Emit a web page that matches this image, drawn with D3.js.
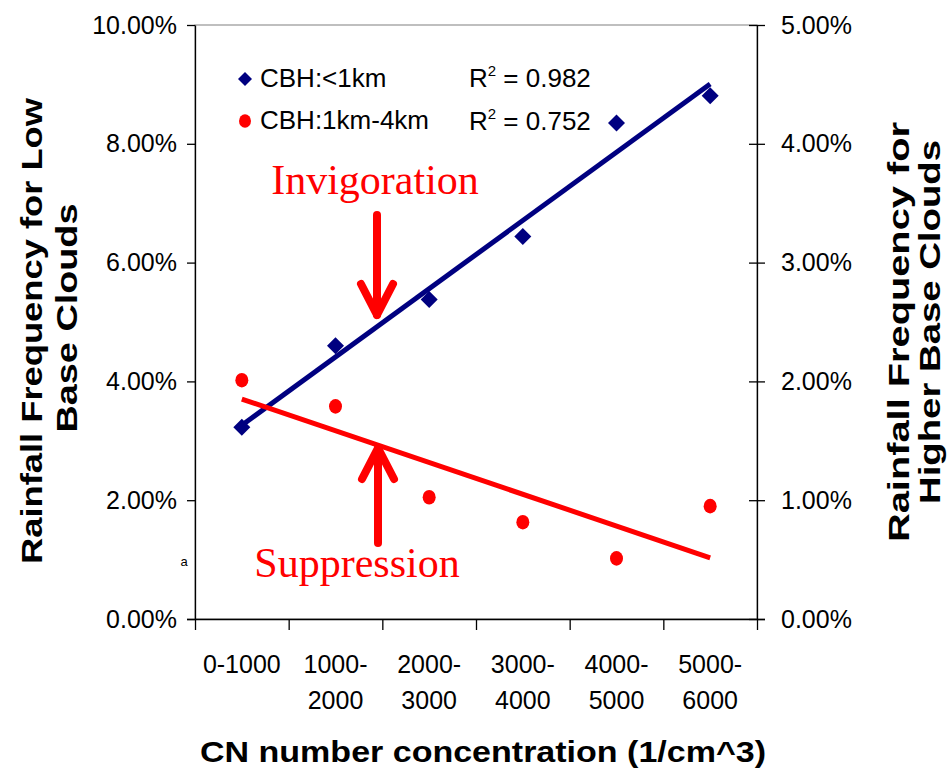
<!DOCTYPE html>
<html>
<head>
<meta charset="utf-8">
<script src="https://cdn.jsdelivr.net/npm/d3@7"></script>
<style>
  body { margin: 0; background: #fff; }
  svg { display: block; font-family: Arial, "Liberation Sans", sans-serif; }
</style>
</head>
<body>
<script>
// ---------- data ----------
const categories = ['0-1000', '1000-2000', '2000-3000', '3000-4000', '4000-5000', '5000-6000'];
const tickLines = [['0-1000'], ['1000-', '2000'], ['2000-', '3000'], ['3000-', '4000'], ['4000-', '5000'], ['5000-', '6000']];
const lowBase = [3.23, 4.60, 5.38, 6.44, 8.35, 8.81];      // % (left axis)
const highBase = [2.01, 1.79, 1.025, 0.815, 0.51, 0.95];   // % (right axis)
const leftTicks = [0, 2, 4, 6, 8, 10];
const rightTicks = [0, 1, 2, 3, 4, 5];
const seriesNames = ['CBH:<1km', 'CBH:1km-4km'];
const r2Values = ['0.982', '0.752'];

const width = 949, height = 771;
const plotL = 195, plotR = 757, plotT = 25, plotB = 619;
const navy = '#000080', red = '#ff0000';

let svg = d3.select('body').append('svg')
  .attr('width', width).attr('height', height);

let x = d3.scaleBand().domain(categories).range([plotL, plotR]);
let xEdge = d3.scaleLinear().domain([0, categories.length]).range([plotL, plotR]);
let yL = d3.scaleLinear().domain([0, 10]).range([plotB, plotT]);
let yR = d3.scaleLinear().domain([0, 5]).range([plotB, plotT]);

//---------- plot frame ----------
svg.append('rect')
  .attr('x', plotL).attr('y', plotT)
  .attr('width', plotR - plotL).attr('height', plotB - plotT)
  .attr('fill', 'none').attr('stroke', '#808080').attr('stroke-width', 1);

//---------- axes ----------
let fmt = d => d.toFixed(2) + '%';

let gL = svg.append('g').attr('transform', `translate(${plotL},0)`)
  .call(d3.axisLeft(yL).tickValues(leftTicks).tickFormat(fmt).tickSizeInner(8).tickSizeOuter(0).tickPadding(10));

let gR = svg.append('g').attr('transform', `translate(${plotR},0)`)
  .call(d3.axisRight(yR).tickValues(rightTicks).tickFormat(fmt).tickSizeInner(8).tickSizeOuter(0).tickPadding(16));
gR.selectAll('.tick').append('line').attr('x1', -8).attr('x2', 0).attr('stroke', '#000');

let gB = svg.append('g').attr('transform', `translate(0,${plotB})`)
  .call(d3.axisBottom(xEdge).tickValues(d3.range(categories.length + 1)).tickFormat('').tickSizeInner(11).tickSizeOuter(0));
gB.select('.domain').attr('d', `M${plotL - 8},0.5H${plotR + 8}`);

[gL, gR, gB].forEach(g => {
  g.select('.domain').attr('stroke', '#000').attr('stroke-width', 1.3);
  g.selectAll('.tick line').attr('stroke', '#000').attr('stroke-width', 1.3);
  g.selectAll('text').attr('font-size', 25).attr('font-family', 'Arial, "Liberation Sans", sans-serif').attr('fill', '#000');
});

// category labels (two lines)
let xl = svg.append('g');
categories.forEach((c, i) => {
  let t = xl.append('text')
    .attr('x', x(c) + x.bandwidth() / 2)
    .attr('text-anchor', 'middle')
    .attr('font-size', 25);
  tickLines[i].forEach((s, j) => {
    t.append('tspan').attr('x', x(c) + x.bandwidth() / 2).attr('y', 673 + j * 36).text(s);
  });
});

//---------- trendlines ----------
function fit(vals) {
  let n = vals.length, idx = d3.range(n);
  let mx = d3.mean(idx), my = d3.mean(vals);
  let sxy = d3.sum(idx, i => (i - mx) * (vals[i] - my));
  let sxx = d3.sum(idx, i => (i - mx) * (i - mx));
  let b = sxy / sxx;
  return i => my + b * (i - mx);
}
let cx = i => x(categories[i]) + x.bandwidth() / 2;
let fL = fit(lowBase), fR = fit(highBase);
let last = categories.length - 1;

svg.append('line')
  .attr('x1', cx(0)).attr('y1', yL(fL(0)))
  .attr('x2', cx(last)).attr('y2', yL(fL(last)))
  .attr('stroke', navy).attr('stroke-width', 5);
svg.append('line')
  .attr('x1', cx(0)).attr('y1', yR(fR(0)))
  .attr('x2', cx(last)).attr('y2', yR(fR(last)))
  .attr('stroke', red).attr('stroke-width', 5);

//---------- points ----------
let diamond = s => `M0,${-s}L${s},0L0,${s}L${-s},0Z`;
svg.append('g').selectAll('path')
  .data(lowBase).join('path')
  .attr('transform', (d, i) => `translate(${cx(i)},${yL(d)})`)
  .attr('d', diamond(8.5))
  .attr('fill', navy);

svg.append('g').selectAll('ellipse')
  .data(highBase).join('ellipse')
  .attr('cx', (d, i) => cx(i)).attr('cy', d => yR(d))
  .attr('rx', 6.5).attr('ry', 7.3)
  .attr('fill', red);

//---------- legend ----------
let lg = svg.append('g');
lg.append('path').attr('transform', 'translate(245,79)').attr('d', diamond(7)).attr('fill', navy);
lg.append('ellipse').attr('cx', 245).attr('cy', 121).attr('rx', 6).attr('ry', 6.8).attr('fill', red);
seriesNames.forEach((s, i) => {
  lg.append('text').attr('x', 260).attr('y', 87 + i * 42).attr('font-size', 26).text(s);
  let r = lg.append('text').attr('x', 469).attr('y', 87 + i * 43).attr('font-size', 26);
  r.append('tspan').text('R');
  r.append('tspan').attr('font-size', 15).attr('dy', -11).text('2');
  r.append('tspan').attr('dy', 11).text(' = ' + r2Values[i]);
});

//---------- annotations ----------
let serif = '"Times New Roman", "Liberation Serif", serif';
svg.append('text').attr('x', 375).attr('y', 194).attr('text-anchor', 'middle')
  .attr('font-family', serif).attr('font-size', 42).attr('fill', red).text('Invigoration');
svg.append('text').attr('x', 357).attr('y', 577).attr('text-anchor', 'middle')
  .attr('font-family', serif).attr('font-size', 42).attr('fill', red).text('Suppression');

let arrow = (xa, tail, tip) => {
  let dir = tip > tail ? -1 : 1;
  let g = svg.append('g').attr('stroke', red).attr('stroke-width', 8)
    .attr('stroke-linecap', 'round').attr('stroke-linejoin', 'round').attr('fill', 'none');
  g.append('line').attr('x1', xa).attr('y1', tail).attr('x2', xa).attr('y2', tip);
  g.append('path').attr('d', `M${xa - 16},${tip + dir * 31}L${xa},${tip}L${xa + 16},${tip + dir * 31}`);
};
arrow(377, 215, 315);
arrow(378, 543, 448);

svg.append('text').attr('x', 184).attr('y', 566).attr('text-anchor', 'middle')
  .attr('font-size', 13).text('a');

//---------- axis titles ----------
let title = (xp, yp, txt, len, fs) => svg.append('text')
  .attr('transform', `translate(${xp},${yp}) rotate(-90)`)
  .attr('text-anchor', 'middle').attr('font-weight', 'bold').attr('font-size', fs)
  .attr('textLength', len).attr('lengthAdjust', 'spacingAndGlyphs')
  .text(txt);
title(42, 331, 'Rainfall Frequency for Low', 466, 30);
title(77, 318, 'Base Clouds', 229, 30);
title(909, 332, 'Rainfall Frequency for', 420, 29);
title(940, 322, 'Higher Base Clouds', 364, 29);

svg.append('text').attr('x', 200).attr('y', 762)
  .attr('font-weight', 'bold').attr('font-size', 30)
  .attr('textLength', 566).attr('lengthAdjust', 'spacingAndGlyphs')
  .text('CN number concentration (1/cm^3)');
</script>
</body>
</html>
